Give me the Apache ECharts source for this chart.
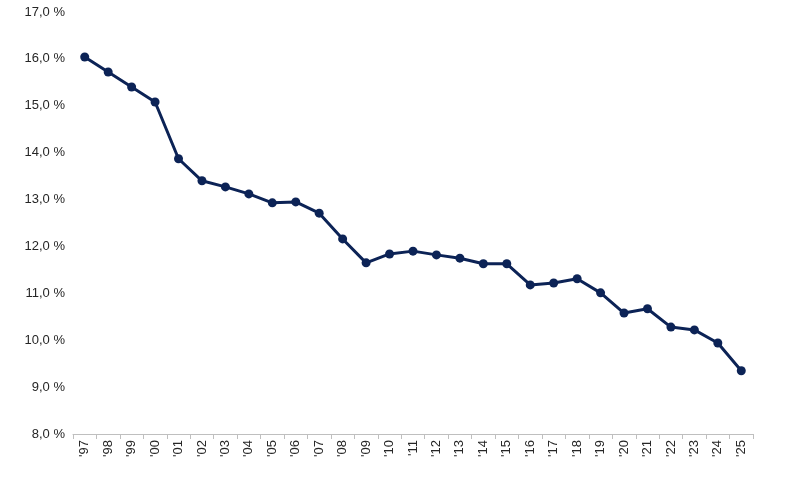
<!DOCTYPE html>
<html><head><meta charset="utf-8">
<script src="https://cdn.jsdelivr.net/npm/echarts@6/dist/echarts.min.js"></script>
<style>html,body{margin:0;padding:0;background:#fff}#c{width:800px;height:487px}</style>
</head><body><div id="c"></div>
<script>
const categories = ["'97","'98","'99","'00","'01","'02","'03","'04","'05","'06","'07","'08","'09","'10","'11","'12","'13","'14","'15","'16","'17","'18","'19","'20","'21","'22","'23","'24","'25"];
const values = [16.04,15.72,15.40,15.08,13.87,13.40,13.27,13.12,12.93,12.95,12.71,12.16,11.65,11.84,11.90,11.82,11.75,11.63,11.63,11.18,11.22,11.31,11.01,10.58,10.67,10.28,10.22,9.94,9.35];
const chart = echarts.init(document.getElementById('c'));
chart.setOption({
  animation:false,
  grid:{left:73,right:47,top:12,bottom:53,containLabel:false},
  xAxis:{type:'category',data:categories,boundaryGap:true,
    axisLine:{lineStyle:{color:'#bfbfbf'}},
    axisTick:{show:true,lineStyle:{color:'#bfbfbf'}},
    axisLabel:{rotate:90,color:'#262626',fontSize:13,fontFamily:'Liberation Sans',interval:0,margin:6}},
  yAxis:{type:'value',min:8,max:17,interval:1,
    axisLine:{show:false},axisTick:{show:false},splitLine:{show:false},
    axisLabel:{color:'#262626',fontSize:13,fontFamily:'Liberation Sans',margin:8,
      formatter:v=>v.toFixed(1).replace('.',',')+' %'}},
  series:[{type:'line',data:values,symbol:'circle',symbolSize:9,
    lineStyle:{color:'#0c2356',width:3},itemStyle:{color:'#0c2356'}}]
});
</script></body></html>
